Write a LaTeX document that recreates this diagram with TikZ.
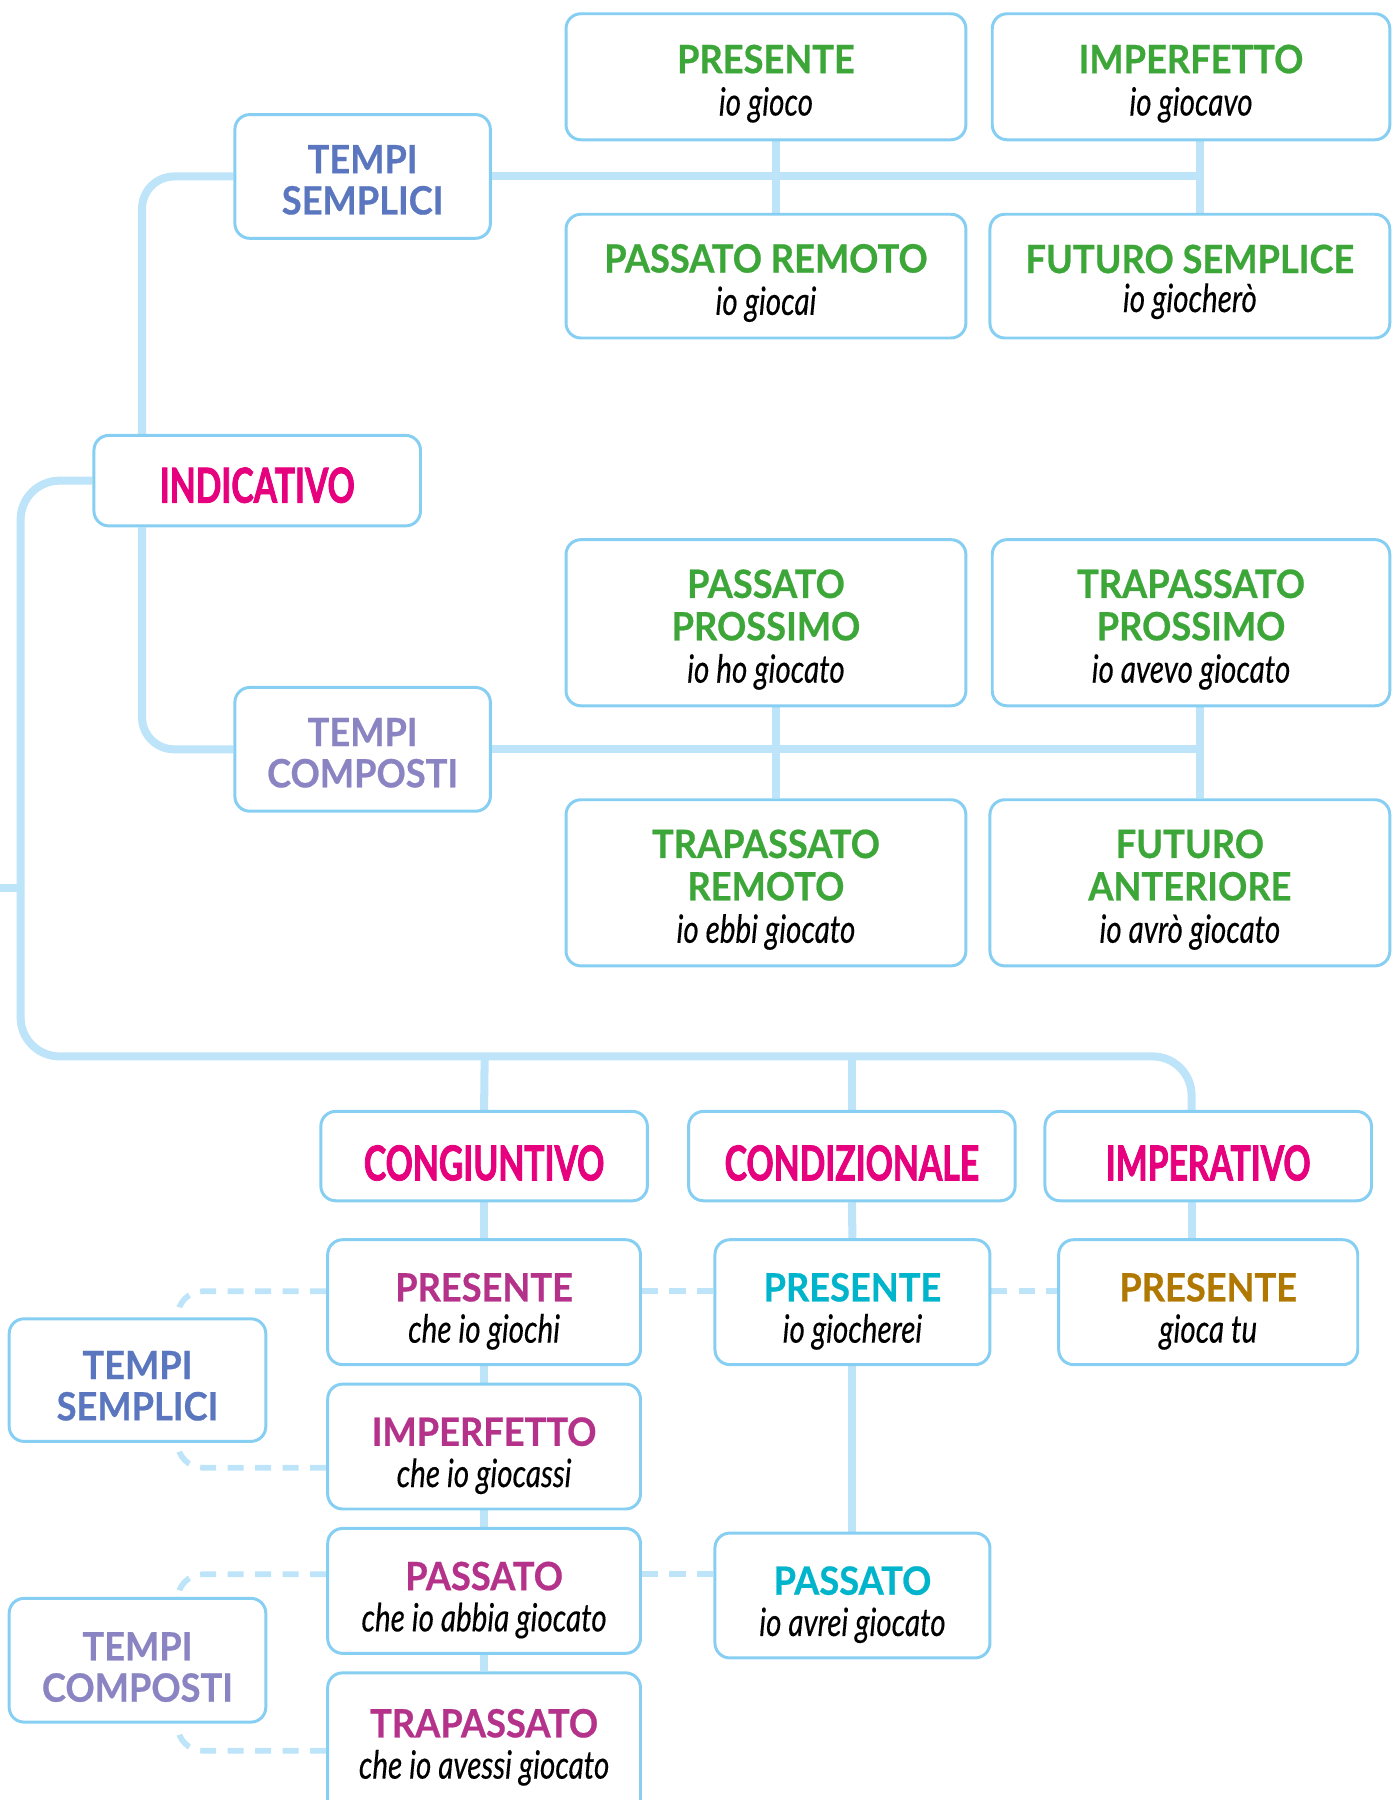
\documentclass[tikz,border=0pt]{standalone}
\usepackage{fontspec}
\usetikzlibrary{backgrounds}
\newfontfamily\hf{Lato}[FakeStretch=0.93, BoldFeatures={FakeBold=0.6}]
\newfontfamily\cf{Lato}[FakeStretch=0.70, BoldFeatures={FakeBold=1.6}]
\newfontfamily\itf{Lato}[FakeStretch=0.76, ItalicFeatures={FakeBold=0.3}]
\definecolor{linec}{HTML}{BDE4F8}
\definecolor{boxc}{HTML}{86CFF2}
\definecolor{grn}{HTML}{3DA639}
\definecolor{mag}{HTML}{E6007E}
\definecolor{tsblue}{HTML}{5A76BE}
\definecolor{tcpurp}{HTML}{8A84C3}
\definecolor{cpurp}{HTML}{B5328A}
\definecolor{cyn}{HTML}{00B4CC}
\definecolor{ochre}{HTML}{B07800}
\newcommand\hd[2]{{\hf\bfseries\color{#1}#2}}
\newcommand\md[1]{{\cf\bfseries\fontsize{42}{44}\selectfont\color{mag}#1}}
\newcommand\ex[1]{{\itf\itshape\fontsize{34}{37}\selectfont #1}}
\tikzset{
  box/.style={draw=boxc, line width=2.6pt, rounded corners=13pt, fill=white, inner sep=0pt},
  txt/.style={align=center, inner sep=0pt, font=\fontsize{34}{37}\selectfont},
  conn/.style={draw=linec, line width=7pt},
  dconn/.style={draw=linec, line width=5pt, dash pattern=on 14pt off 10pt},
}
% \bx[text options]{name}{x}{y}{w}{h}{text}
\newcommand\bx[7][yshift=-6pt]{%
  \node[box, minimum width=#5pt, minimum height=#6pt] (#2) at (#3,#4) {};
  \node[txt, #1] (#2-t) at (#2.center) {#7};}
\begin{document}
\begin{tikzpicture}[x=1pt,y=-1pt]
\useasboundingbox (0,0) rectangle (1215,1571);
\clip (0,0) rectangle (1215,1571);
% junction coordinates
\coordinate (xl) at (124,0);
\coordinate (xa) at (677,0);
\coordinate (xb) at (1047,0);
\coordinate (xr) at (18,922);
\coordinate (xi) at (1040,0);
\coordinate (xc) at (423,0);
\coordinate (stubA) at (0,775);
\coordinate (stubB) at (18,775);

% ---- boxes
\bx{iPres}{668.5}{67}{349}{110}{\hd{grn}{PRESENTE}\\\ex{io gioco}}
\bx{iImp}{1039.5}{67}{347}{110}{\hd{grn}{IMPERFETTO}\\\ex{io giocavo}}
\bx{iPR}{668.5}{241}{349}{108}{\hd{grn}{PASSATO REMOTO}\\\ex{io giocai}}
\bx[yshift=-5pt, font=\fontsize{34}{34}\selectfont]{iFS}{1038.5}{241}{349}{108}{\hd{grn}{FUTURO SEMPLICE}\\\ex{io giocherò}}
\bx[yshift=-3pt, font=\fontsize{34}{36}\selectfont]{tsA}{316.5}{154}{223}{108}{\hd{tsblue}{TEMPI}\\\hd{tsblue}{SEMPLICI}}
\bx[yshift=-4pt]{ind}{224.5}{419.5}{285}{79}{\md{INDICATIVO}}
\bx[yshift=-3pt, font=\fontsize{34}{36}\selectfont]{tcA}{316.5}{654}{223}{108}{\hd{tcpurp}{TEMPI}\\\hd{tcpurp}{COMPOSTI}}
\bx{iPP}{668.5}{543.5}{349}{145}{\hd{grn}{PASSATO}\\\hd{grn}{PROSSIMO}\\\ex{io ho giocato}}
\bx{iTP}{1039.5}{543.5}{347}{145}{\hd{grn}{TRAPASSATO}\\\hd{grn}{PROSSIMO}\\\ex{io avevo giocato}}
\bx{iTR}{668.5}{770.5}{349}{145}{\hd{grn}{TRAPASSATO}\\\hd{grn}{REMOTO}\\\ex{io ebbi giocato}}
\bx{iFA}{1038.5}{770.5}{349}{145}{\hd{grn}{FUTURO}\\\hd{grn}{ANTERIORE}\\\ex{io avrò giocato}}

\bx{cong}{422.5}{1009}{285}{78}{\md{CONGIUNTIVO}}
\bx{cond}{743.5}{1009}{285}{78}{\md{CONDIZIONALE}}
\bx{imp}{1054.5}{1009}{285}{78}{\md{IMPERATIVO}}

\bx[yshift=-8pt, font=\fontsize{34}{36}\selectfont]{cPres}{422.5}{1136.5}{273}{109}{\hd{cpurp}{PRESENTE}\\\ex{che io giochi}}
\bx[yshift=-8pt, font=\fontsize{34}{36}\selectfont]{cImp}{422.5}{1262.5}{273}{109}{\hd{cpurp}{IMPERFETTO}\\\ex{che io giocassi}}
\bx[yshift=-8pt, font=\fontsize{34}{36}\selectfont]{cPass}{422.5}{1388.5}{273}{109}{\hd{cpurp}{PASSATO}\\\ex{che io abbia giocato}}
\bx[yshift=-3pt, font=\fontsize{34}{36}\selectfont]{cTrap}{422.5}{1522}{273}{124}{\hd{cpurp}{TRAPASSATO}\\\ex{che io avessi giocato}}

\bx[yshift=-8pt, font=\fontsize{34}{36}\selectfont]{dPres}{744}{1136.5}{240}{109}{\hd{cyn}{PRESENTE}\\\ex{io giocherei}}
\bx[yshift=-8pt, font=\fontsize{34}{36}\selectfont]{dPass}{744}{1392.5}{240}{109}{\hd{cyn}{PASSATO}\\\ex{io avrei giocato}}
\bx[yshift=-8pt, font=\fontsize{34}{36}\selectfont]{mPres}{1054.5}{1136.5}{261}{109}{\hd{ochre}{PRESENTE}\\\ex{gioca tu}}

\bx[yshift=-5pt, font=\fontsize{34}{36}\selectfont]{tsB}{120}{1204.5}{224}{107}{\hd{tsblue}{TEMPI}\\\hd{tsblue}{SEMPLICI}}
\bx[yshift=-6pt, font=\fontsize{34}{36}\selectfont]{tcB}{120}{1449}{224}{108}{\hd{tcpurp}{TEMPI}\\\hd{tcpurp}{COMPOSTI}}

% ---- connectors (behind boxes)
\begin{scope}[on background layer]
  % indicativo: tempi semplici
  \draw[conn] (tsA.east) -- (tsA.east -| xb);
  \draw[conn] (iPres.south -| xa) -- (iPR.north -| xa);
  \draw[conn] (iImp.south -| xb) -- (iFS.north -| xb);
  \draw[conn, rounded corners=28pt] (tsA.west) -| (xl |- ind.north);
  % indicativo: tempi composti
  \draw[conn] (tcA.east) -- (tcA.east -| xb);
  \draw[conn] (iPP.south -| xa) -- (iTR.north -| xa);
  \draw[conn] (iTP.south -| xb) -- (iFA.north -| xb);
  \draw[conn, rounded corners=28pt] (xl |- ind.south) |- (tcA.west);
  % root line
  \draw[conn] (stubA) -- (stubB);
  \draw[conn, rounded corners=34pt] (ind.west) -| (xr) -| (xi |- imp.north);
  \draw[conn] (xc |- xr) -- (cong.north);
  \draw[conn] (cond.north |- xr) -- (cond.north);
  % congiuntivo column
  \draw[conn] (cong.south) -- (cPres.north);
  \draw[conn] (cPres.south) -- (cImp.north);
  \draw[conn] (cImp.south) -- (cPass.north);
  \draw[conn] (cPass.south) -- (cTrap.north);
  % condizionale column
  \draw[conn] (cond.south) -- (dPres.north);
  \draw[conn] (dPres.south) -- (dPass.north);
  % imperativo
  \draw[conn] (xi |- imp.south) -- (xi |- mPres.north);
  % dashed
  \draw[dconn] ([yshift=9.5pt]cPres.east) -- ([yshift=9.5pt]dPres.west);
  \draw[dconn] ([yshift=9.5pt]dPres.east) -- ([yshift=9.5pt]mPres.west);
  \draw[dconn] ([yshift=14.5pt]cPass.east) -- ([yshift=18.5pt]dPass.west);
  \draw[dconn, rounded corners=22pt] ([yshift=9.5pt]cPres.west) -| ([xshift=35pt]tsB.north);
  \draw[dconn, rounded corners=22pt] ([yshift=-18.5pt]cImp.west) -| ([xshift=35pt]tsB.south);
  \draw[dconn, rounded corners=22pt] ([yshift=14.5pt]cPass.west) -| ([xshift=35pt]tcB.north);
  \draw[dconn, rounded corners=22pt] ([yshift=-6pt]cTrap.west) -| ([xshift=35pt]tcB.south);
\end{scope}
\end{tikzpicture}
\end{document}
